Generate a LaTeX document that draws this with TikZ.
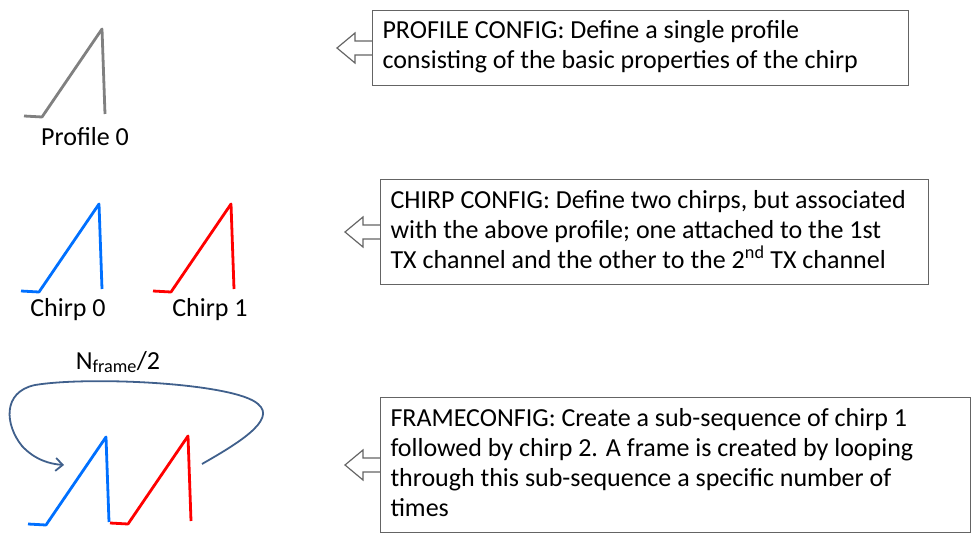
\documentclass[tikz,border=0pt]{standalone}
\usepackage{fontspec}
\setmainfont{Carlito}
\usetikzlibrary{arrows.meta}
\definecolor{profgray}{RGB}{128,128,128}
\definecolor{chirpblue}{RGB}{0,112,255}
\definecolor{chirpred}{RGB}{255,0,0}
\definecolor{loopblue}{RGB}{64,96,140}
\definecolor{boxgray}{RGB}{100,100,100}
% one ramp: flat start, rising slope, drop back down
\newcommand{\chirpramp}[3]{\draw[ramp,#1] (#2,#3) ++(-18,-1) -- ++(18,1) -- ++(60,-88) -- ++(3,85);}
% hollow arrow pointing left out of a box
\newcommand{\cfgarrow}[1]{\draw[hollow] (#1.west) ++(0,7) -- ++(-17,0) -- ++(0,8) -- ++(-18,-15) -- ++(18,-15) -- ++(0,8) -- ++(17,0);}
\newcommand{\cfgfont}{\fontsize{26}{30}\selectfont\hyphenpenalty=10000\relax}

\begin{document}
\begin{tikzpicture}[x=1pt,y=-1pt,
  ramp/.style={line width=2.8pt,line join=round},
  hollow/.style={draw=boxgray,line width=1.2pt,line join=miter},
  lbl/.style={font=\fontsize{26}{30}\selectfont,inner sep=0pt}]
\tikzstyle{cfgbox}=[draw=boxgray,line width=1pt,anchor=north west,align=flush left,
  inner xsep=10pt,inner ysep=7.5pt,font=\cfgfont]
\useasboundingbox (0,0) rectangle (973,540);

% left column: profile, chirps, frame
\chirpramp{profgray}{42}{117}
\node[lbl] (prof0) at (85,137) {Profile 0};

\chirpramp{chirpblue}{39}{292}
\chirpramp{chirpred}{171}{292}
\node[lbl] (chirp0) at (68,310) {Chirp 0};
\node[lbl] (chirp1) at (210,310) {Chirp 1};

\chirpramp{chirpblue}{46}{525}
\chirpramp{chirpred}{128}{524}
\node[lbl] (nframe) at (118,362) {N\textsubscript{frame}/2};
\coordinate (loopA) at (202,464);
\coordinate (loopB) at (64,465);
\draw[loopblue,line width=1.8pt,-{Straight Barb[length=7pt,width=13pt]}]
  (loopA) .. controls (235,445) and (278,420) .. (258,404)
  .. controls (235,383) and (90,376) .. (35,385)
  .. controls (2,392) and (5,425) .. (22,446)
  .. controls (35,460) and (50,464) .. (loopB);

% right column: config boxes
\node[cfgbox,text width=516pt] (profcfg) at (372,10)
  {\strut PROFILE CONFIG: Define a single profile\\
   consisting of the basic properties of the chirp\strut};
\node[cfgbox,text width=528pt] (chirpcfg) at (380,179)
  {\strut CHIRP CONFIG: Define two chirps, but associated\\
   with the above profile; one attached to the 1st\\
   TX channel and the other to the 2\textsuperscript{nd} TX channel\strut};
\node[cfgbox,text width=570pt] (framecfg) at (380,397)
  {\strut FRAMECONFIG: Create a sub-sequence of chirp 1\\
   followed by chirp 2. A frame is created by looping\\
   through this sub-sequence a specific number of\\
   times\strut};

\cfgarrow{profcfg}
\cfgarrow{chirpcfg}
\cfgarrow{framecfg}
\end{tikzpicture}
\end{document}
